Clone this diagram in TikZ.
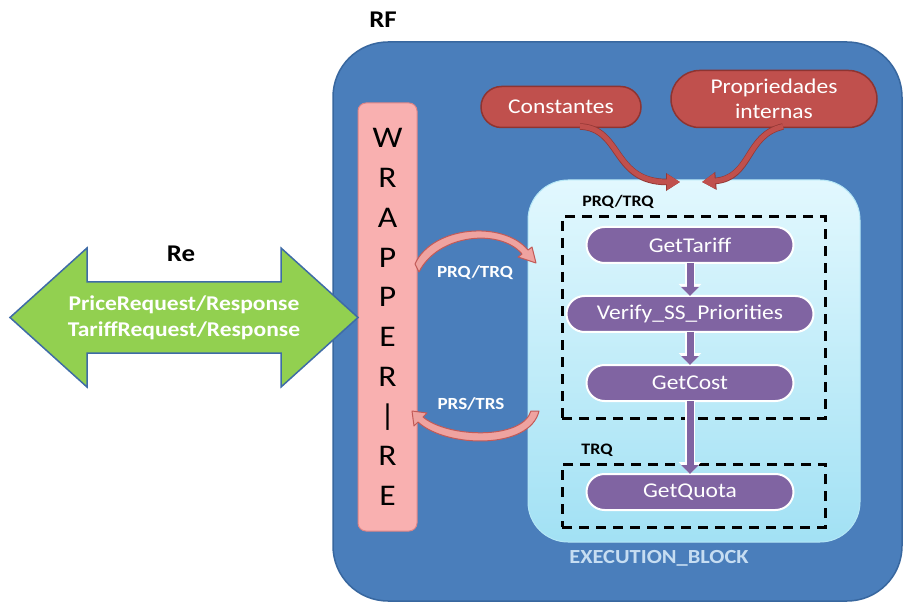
\documentclass[tikz,border=0pt]{standalone}
\usepackage{fontspec}
\setmainfont{Carlito}[FakeStretch=1.12]
\usetikzlibrary{shapes.misc,arrows.meta,calc}

\definecolor{rfblue}{HTML}{4A7EBB}
\definecolor{rfedge}{HTML}{38679F}
\definecolor{wrapfill}{HTML}{F9B0B0}
\definecolor{wrapedge}{HTML}{E08585}
\definecolor{execTop}{HTML}{E2F8FE}
\definecolor{execBot}{HTML}{A2E1F4}
\definecolor{stepPurple}{HTML}{8064A2}
\definecolor{propRed}{HTML}{C0504D}
\definecolor{propEdge}{HTML}{8E3431}
\definecolor{relGreen}{HTML}{92D050}
\definecolor{relEdge}{HTML}{3E6BA6}
\definecolor{loopPink}{HTML}{EFA3A0}
\definecolor{loopEdge}{HTML}{C25A57}
\definecolor{execLabel}{HTML}{C6DDF2}

\begin{document}
\begin{tikzpicture}[x=1pt,y=-1pt,
  every node/.style={inner sep=0pt,outer sep=0pt},
  rfpanel/.style={rectangle,rounded corners=55pt,fill=rfblue,draw=rfedge,line width=1.5pt},
  execpanel/.style={rectangle,rounded corners=40pt,top color=execTop,bottom color=execBot,draw=execBot!80!white,line width=1pt},
  grpbox/.style={rectangle,draw=black,line width=3pt,dash pattern=on 10pt off 7pt},
  grplabel/.style={font=\bfseries\fontsize{16}{18}\selectfont,text=black},
  stepnode/.style={rounded rectangle,fill=stepPurple,draw=white,line width=2pt,minimum height=36pt,
    text=white,font=\fontsize{21}{24}\selectfont},
  propnode/.style={rounded rectangle,fill=propRed,draw=propEdge,line width=1.5pt,
    text=white,align=center,font=\fontsize{21}{25}\selectfont},
  wrapnode/.style={rectangle,rounded corners=8pt,fill=wrapfill,draw=wrapedge,line width=1pt,
    minimum width=59pt,minimum height=428pt,align=center,font=\fontsize{30}{39.7}\selectfont},
  flowarrow/.style={line width=7pt,draw=stepPurple,-{Triangle[width=17pt,length=9pt]},
    preaction={draw=white,line width=10pt,-{Triangle[width=22pt,length=12pt]}}},
  feedarrow/.style={line width=5pt,draw=propRed,-{Triangle[width=15pt,length=13pt]},
    preaction={draw=propEdge!85!propRed,line width=6.5pt,-{Triangle[width=17pt,length=14pt]}}},
  loopband/.style={fill=loopPink,draw=loopEdge,line width=1pt,line join=round},
  looplabel/.style={font=\bfseries\fontsize{17}{19}\selectfont,text=white},
  titlelabel/.style={font=\bfseries\fontsize{24}{26}\selectfont,text=black}
]
\useasboundingbox (0,0) rectangle (903,604);
\fill[white] (0,0) rectangle (903,604);

% outer RF panel
\node[rfpanel,minimum width=569pt,minimum height=559pt] (rf) at (617.5,321.5) {};
\node[titlelabel] (rflabel) at (383,20) {RF};

% execution block with its two dashed groups
\node[execpanel,minimum width=332pt,minimum height=362pt] (exec) at (694,361) {};
\node[grpbox,minimum width=263pt,minimum height=201pt] (grpA) at (693.5,317.5) {};
\node[grpbox,minimum width=263pt,minimum height=63pt] (grpB) at (693.5,495.5) {};
\node[grplabel] (grpAlabel) at (618,202) {PRQ/TRQ};
\node[grplabel] (grpBlabel) at (597,450) {TRQ};
\node[font=\bfseries\fontsize{20}{22}\selectfont,text=execLabel] (execlabel) at (659,558) {EXECUTION\_BLOCK};

% processing steps
\node[stepnode,minimum width=207pt] (tariff) at (690,245) {GetTariff};
\node[stepnode,minimum width=247pt] (verify) at (690,314) {Verify\_SS\_Priorities};
\node[stepnode,minimum width=207pt] (cost) at (690,383) {GetCost};
\node[stepnode,minimum width=207pt] (quota) at (690,492) {GetQuota};

\draw[flowarrow] (tariff.south) -- (verify.north);
\draw[flowarrow] (verify.south) -- (cost.north);
\draw[flowarrow] (cost.south) -- (quota.north);

% configuration inputs
\node[propnode,minimum width=160pt,minimum height=41pt] (const) at (561,107) {Constantes};
\node[propnode,minimum width=206pt,minimum height=57pt] (props) at (774,99) {Propriedades\\internas};

\coordinate (inL) at ($(exec.north)+(-14,2)$);
\coordinate (inR) at ($(exec.north)+(8,2)$);
\draw[feedarrow] ($(const.south)+(19,-1)$) .. controls (622,128) and (612,182) .. (inL);
\draw[feedarrow] ($(props.south)+(9,-1)$) .. controls (745,135) and (752,178) .. (inR);

% wrapper
\node[wrapnode] (wrapper) at (387.5,317) {W\\R\\A\\P\\P\\E\\R\\|\\R\\E};

% request / response loops between wrapper and execution block (curved block arrows)
\coordinate (reqFrom) at ($(wrapper.east)+(-2,-53)$);
\coordinate (reqTip) at ($(exec.west)+(8,-98)$);
\coordinate (resFrom) at ($(exec.west)+(11,50)$);
\coordinate (resTip) at ($(wrapper.east)+(-5,94)$);
\fill[loopband] (reqFrom) .. controls (432,226) and (503,220) .. (528,250)
  -- (532,247) -- (reqTip) -- (518,257) -- (522,254)
  .. controls (500,228) and (438,234) .. (419,272) -- cycle;
\fill[loopband] (resFrom) .. controls (530,450) and (446,448) .. (418,422)
  -- (414,426) -- (resTip) -- (427,413) -- (423,417)
  .. controls (448,438) and (522,440) .. (531,411) -- cycle;
\node[looplabel] (reqlabel) at (475,273) {PRQ/TRQ};
\node[looplabel] (reslabel) at (471,404) {PRS/TRS};

% external interface arrow
\filldraw[fill=relGreen,draw=relEdge,line width=1.5pt,line join=miter]
  (10,317.5) -- (87,248) -- (87,282) -- (281,282) -- (281,248) -- (358,317.5)
  -- (281,387) -- (281,353) -- (87,353) -- (87,387) -- cycle;
\node[align=center,text=white,font=\bfseries\fontsize{21}{26}\selectfont] (reltext) at (184,318)
  {PriceRequest/Response\\TariffRequest/Response};
\node[titlelabel] (relabel) at (181,254) {Re};
\end{tikzpicture}
\end{document}
